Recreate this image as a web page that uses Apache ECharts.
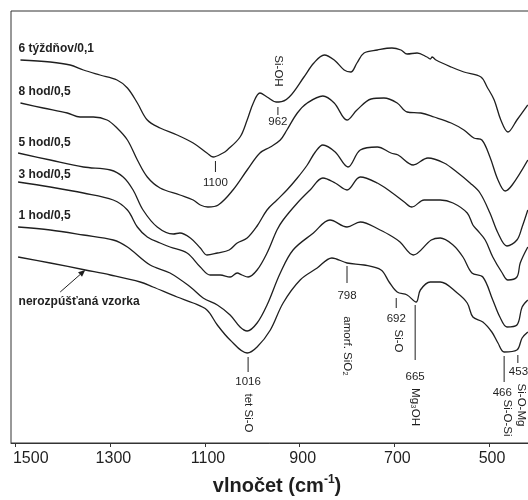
<!DOCTYPE html>
<html lang="sk">
<head>
<meta charset="UTF-8">
<title>IR spektrá</title>
<script src="https://cdn.jsdelivr.net/npm/echarts@6/dist/echarts.min.js"></script>
<style>
  html, body { margin: 0; padding: 0; background: #fff; }
  #chart { width: 528px; height: 500px; }
</style>
</head>
<body>
<div id="chart"></div>
<script>
// [vlnočet cm-1, relatívna hodnota] odčítané z obrázku
const tyzdnov6 = [[1490,383],[1427,381],[1385,378],[1357,373],[1322,368],[1286,363],[1264,355],[1243,340],[1222,323],[1195,315],[1159,308],[1125,300],[1096,290],[1083,286],[1062,290],[1053,293],[1026,306],[1011,323],[998,340],[984,350],[969,346],[950,341],[944,341],[922,346],[891,366],[870,380],[848,388],[827,383],[806,373],[792,371],[779,380],[764,390],[736,393],[705,395],[686,393],[673,389],[652,390],[631,386],[624,384],[620,386],[612,383],[580,376],[553,371],[517,366],[504,356],[489,343],[475,323],[460,311],[441,323],[418,338]];
const hod8 = [[1490,340],[1442,335],[1391,330],[1364,326],[1336,326],[1307,323],[1286,315],[1264,303],[1243,283],[1222,266],[1195,255],[1153,248],[1125,243],[1110,238],[1094,236],[1072,238],[1041,253],[1011,273],[984,290],[962,296],[941,303],[927,313],[905,330],[884,340],[851,347],[827,340],[800,323],[779,333],[749,344],[722,345],[694,340],[673,331],[644,330],[616,326],[580,320],[553,313],[532,305],[515,303],[498,286],[481,263],[466,252],[451,258],[418,283]];
const hod5 = [[1495,290],[1427,283],[1357,276],[1300,273],[1273,266],[1252,253],[1231,233],[1201,216],[1167,209],[1153,210],[1131,205],[1110,195],[1096,188],[1074,190],[1049,193],[1032,200],[1011,205],[990,217],[969,233],[948,243],[927,253],[905,265],[884,278],[867,291],[851,298],[825,291],[798,276],[772,293],[736,296],[707,290],[692,288],[660,278],[629,285],[595,280],[568,271],[540,260],[519,250],[498,230],[481,210],[462,197],[441,203],[430,216],[418,233]];
const hod3 = [[1495,261],[1427,256],[1357,250],[1294,243],[1264,233],[1243,216],[1222,206],[1195,200],[1174,196],[1138,190],[1110,176],[1089,168],[1068,168],[1047,166],[1032,170],[1022,168],[1009,166],[990,173],[969,190],[948,213],[935,223],[905,240],[878,253],[851,265],[825,260],[800,253],[772,266],[736,260],[707,251],[679,241],[663,236],[637,243],[603,243],[576,240],[546,230],[534,218],[525,213],[508,203],[492,186],[472,170],[460,163],[441,166],[434,180],[418,196]];
const hod1 = [[1495,216],[1427,213],[1357,208],[1294,203],[1264,196],[1216,178],[1174,170],[1131,156],[1104,145],[1074,138],[1047,128],[1026,116],[1011,112],[990,120],[969,138],[941,170],[914,193],[871,210],[836,223],[800,216],[772,221],[730,213],[703,206],[688,201],[660,188],[622,203],[603,205],[576,198],[555,186],[536,170],[513,166],[492,143],[477,126],[462,116],[441,118],[430,136],[418,143]];
const vzorka = [[1495,186],[1427,180],[1353,173],[1300,168],[1237,161],[1210,156],[1159,146],[1125,140],[1096,133],[1074,118],[1047,103],[1011,90],[990,96],[962,113],[935,140],[899,163],[863,175],[832,185],[800,180],[764,178],[728,173],[711,161],[694,151],[673,148],[654,141],[645,153],[624,161],[603,161],[567,150],[546,140],[534,126],[513,121],[494,111],[481,100],[468,91],[441,93],[430,105],[418,111]];

const spectra = [tyzdnov6, hod8, hod5, hod3, hod1, vzorka];
const curveNames = ['6 týždňov/0,1', '8 hod/0,5', '5 hod/0,5', '3 hod/0,5', '1 hod/0,5', 'nerozpúšťaná vzorka'];
const xTicks = [500, 700, 900, 1100, 1300, 1500];

// popisy pásov: poloha čiarky, číslo, priradenie
const peakNotes = [
    { at: 1078, tick: [282, 271], num: '1100', numY: 260 },
    { at: 946, tick: [336, 328], num: '962', numY: 321, name: 'Si-OH', nameY: 372 },
    { at: 1009, tick: [86, 71], num: '1016', numY: 61, name: 'tet Si-O', nameY: 30 },
    { at: 800, tick: [177, 160], num: '798', numY: 147, name: 'amorf. SiO₂', nameY: 97 },
    { at: 696, tick: [145, 135], num: '692', numY: 124, name: 'Si-O', nameAt: 692, nameY: 102 },
    { at: 656, tick: [138, 83], num: '665', numY: 66, name: 'Mg₃OH', nameY: 36 },
    { at: 468, tick: [87, 61], num: '466', numAt: 472, numY: 50, name: 'Si-O-Si', nameAt: 461, nameY: 25 },
    { at: 439, tick: [88, 80], num: '453', numAt: 458, numY: 71, numLeft: true, name: 'Si-O-Mg', nameAt: 432, nameY: 38 }
];
const labelLevel = [394, 351, 300, 268, 227, 141];

const font = '"Liberation Sans", Arial, sans-serif';
const ink = '#1f1f1f';

let chart = echarts.init(document.getElementById('chart'));

let option = {
    animation: false,
    grid: { left: 11, top: 11, width: 522, height: 432, outerBoundsMode: 'none', containLabel: false, show: true, borderColor: '#333', borderWidth: 1 },
    xAxis: {
        type: 'value',
        inverse: true,
        min: 407,
        max: 1510,
        name: '{b|vlnočet (cm}{s|-1}{b|)}',
        nameLocation: 'middle',
        nameGap: 31,
        nameTextStyle: {
            padding: [0, 0, 0, 10],
            rich: {
                b: { fontFamily: font, fontWeight: 'bold', fontSize: 20, color: ink, lineHeight: 24 },
                s: { fontFamily: font, fontWeight: 'bold', fontSize: 12, color: ink, verticalAlign: 'top', lineHeight: 24, padding: [0, 0, 9, 0] }
            }
        },
        axisLine: { lineStyle: { color: '#333', width: 1 } },
        axisTick: { show: true, inside: false, length: 4, customValues: xTicks, lineStyle: { color: '#333' } },
        axisLabel: {
            customValues: xTicks,
            formatter: v => (v === 1500 ? '{w|' : '{n|') + v + '}',
            margin: 8,
            rich: {
                n: { color: ink, fontFamily: font, fontSize: 16, padding: [0, 0, 0, 6] },
                w: { color: ink, fontFamily: font, fontSize: 16, padding: [0, 0, 0, 30] }
            }
        },
        splitLine: { show: false }
    },
    yAxis: { type: 'value', min: 0, max: 432, show: false },
    series: spectra.map((d, i) => ({
        name: curveNames[i],
        type: 'line',
        data: d,
        showSymbol: false,
        smooth: 0.35,
        lineStyle: { color: ink, width: 1.3 }
    }))
};
chart.setOption(option);

// texty a čiarky do obrázku
function px(v, y) { return chart.convertToPixel({ gridIndex: 0 }, [v, y]); }
let els = [];
curveNames.forEach((n, i) => {
    let p = px(1494, labelLevel[i]);
    els.push({ type: 'text', x: p[0], y: p[1], style: { text: n, fill: ink, font: 'bold 12px ' + font, textAlign: 'left', textVerticalAlign: 'middle' } });
});
peakNotes.forEach(pk => {
    let a = px(pk.at, pk.tick[0]), b = px(pk.at, pk.tick[1]);
    els.push({ type: 'line', shape: { x1: a[0], y1: a[1], x2: b[0], y2: b[1] }, style: { stroke: ink, lineWidth: 1 } });
    let t = px(pk.numAt || pk.at, pk.numY);
    els.push({ type: 'text', x: t[0], y: t[1], style: { text: pk.num, fill: ink, font: '11.5px ' + font, textAlign: pk.numLeft ? 'left' : 'center', textVerticalAlign: 'middle' } });
    if (pk.name) {
        let q = px(pk.nameAt || pk.at, pk.nameY);
        els.push({ type: 'text', x: q[0], y: q[1], rotation: -Math.PI / 2, style: { text: pk.name, fill: ink, font: '11.5px ' + font, textAlign: 'center', textVerticalAlign: 'middle' } });
    }
});
// šípka k nerozpúšťanej vzorke
let tail = px(1406, 151), head = px(1353, 173);
let ang = Math.atan2(head[1] - tail[1], head[0] - tail[0]);
let hl = 7, hw = 3;
let bx = head[0] - hl * Math.cos(ang), by = head[1] - hl * Math.sin(ang);
els.push({ type: 'line', shape: { x1: tail[0], y1: tail[1], x2: bx, y2: by }, style: { stroke: ink, lineWidth: 1 } });
els.push({ type: 'polygon', shape: { points: [head, [bx + hw * Math.sin(ang), by - hw * Math.cos(ang)], [bx - hw * Math.sin(ang), by + hw * Math.cos(ang)]] }, style: { fill: ink } });

chart.setOption({ graphic: { elements: els } });
</script>
</body>
</html>
